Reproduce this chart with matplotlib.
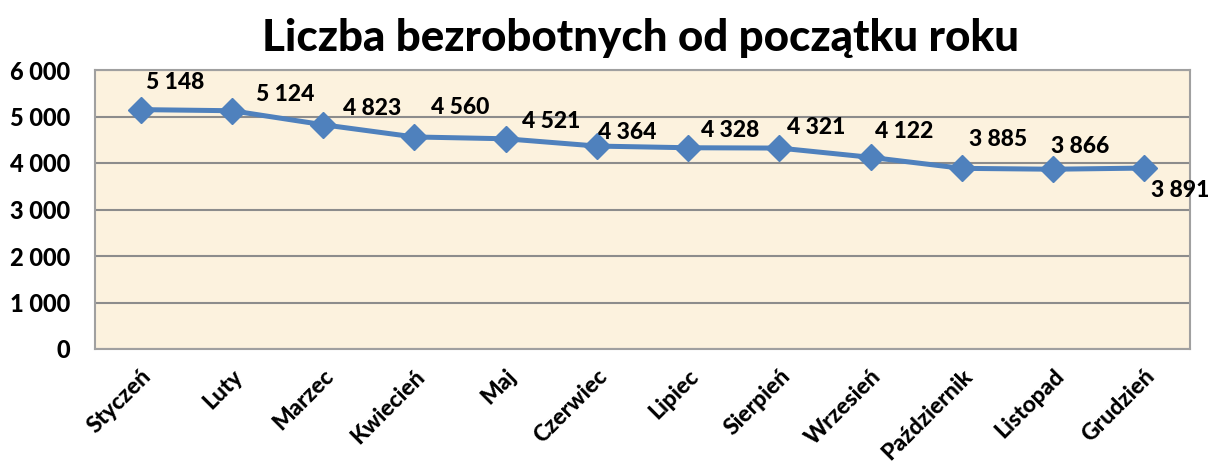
import matplotlib
matplotlib.use("Agg")
import matplotlib.pyplot as plt
from matplotlib.ticker import FuncFormatter

months = ["Styczeń", "Luty", "Marzec", "Kwiecień", "Maj", "Czerwiec",
          "Lipiec", "Sierpień", "Wrzesień", "Październik", "Listopad", "Grudzień"]
values = [5148, 5124, 4823, 4560, 4521, 4364, 4328, 4321, 4122, 3885, 3866, 3891]
title = "Liczba bezrobotnych od początku roku"

# label offsets in pixels (dx to left edge, dy to vertical center)
label_offsets = [(5, 27), (24, 16), (20, 16), (17, 29), (16, 17), (1, 14),
                 (13, 17), (8, 21), (4, 26), (7, 29), (-2, 23), (7, -22)]

plt.rcParams['font.family'] = ['Lato', 'DejaVu Sans']
WEIGHT = 900

W, H = 1211, 468
fig = plt.figure(figsize=(W / 100, H / 100), dpi=100)
fig.patch.set_facecolor('white')
ax = fig.add_axes([95 / W, (H - 349) / H, 1095 / W, 279 / H])
ax.set_facecolor('#FCF2DE')

x = list(range(len(months)))
ax.plot(x, values, color='#4F81BD', linewidth=3.6, marker='D', markersize=13,
        markerfacecolor='#4F81BD', markeredgecolor='#4F81BD', zorder=3)

for xi, v, (dx, dy) in zip(x, values, label_offsets):
    ax.annotate(f"{v:,}".replace(",", " "), (xi, v), xytext=(dx, dy),
                textcoords='offset pixels', ha='left', va='center',
                fontsize=16.5, fontweight=WEIGHT, color='black', zorder=4)

ax.set_xlim(-0.5, len(months) - 0.5)
ax.set_ylim(0, 6000)
ax.set_yticks(range(0, 6001, 1000))
ax.yaxis.set_major_formatter(FuncFormatter(lambda v, p: f"{int(v):,}".replace(",", " ")))
ax.grid(axis='y', color='#8C8C8C', linewidth=1.5, zorder=1)
ax.set_axisbelow(True)
for s in ax.spines.values():
    s.set_color('#A0A0A0')
    s.set_linewidth(1.5)

ax.set_xticks(x)
ax.set_xticklabels(months, rotation=45, ha='right', rotation_mode='anchor',
                   fontsize=16.5, fontweight=WEIGHT)
for t in ax.get_yticklabels():
    t.set_fontweight(WEIGHT)
ax.tick_params(axis='both', length=0)
ax.tick_params(axis='y', labelsize=17, pad=18)
ax.tick_params(axis='x', pad=12)

fig.text(640 / W, 1 - 38 / H, title, ha='center', va='center',
         fontsize=31.6, fontweight=WEIGHT)

fig.savefig("out.png", dpi=100)
